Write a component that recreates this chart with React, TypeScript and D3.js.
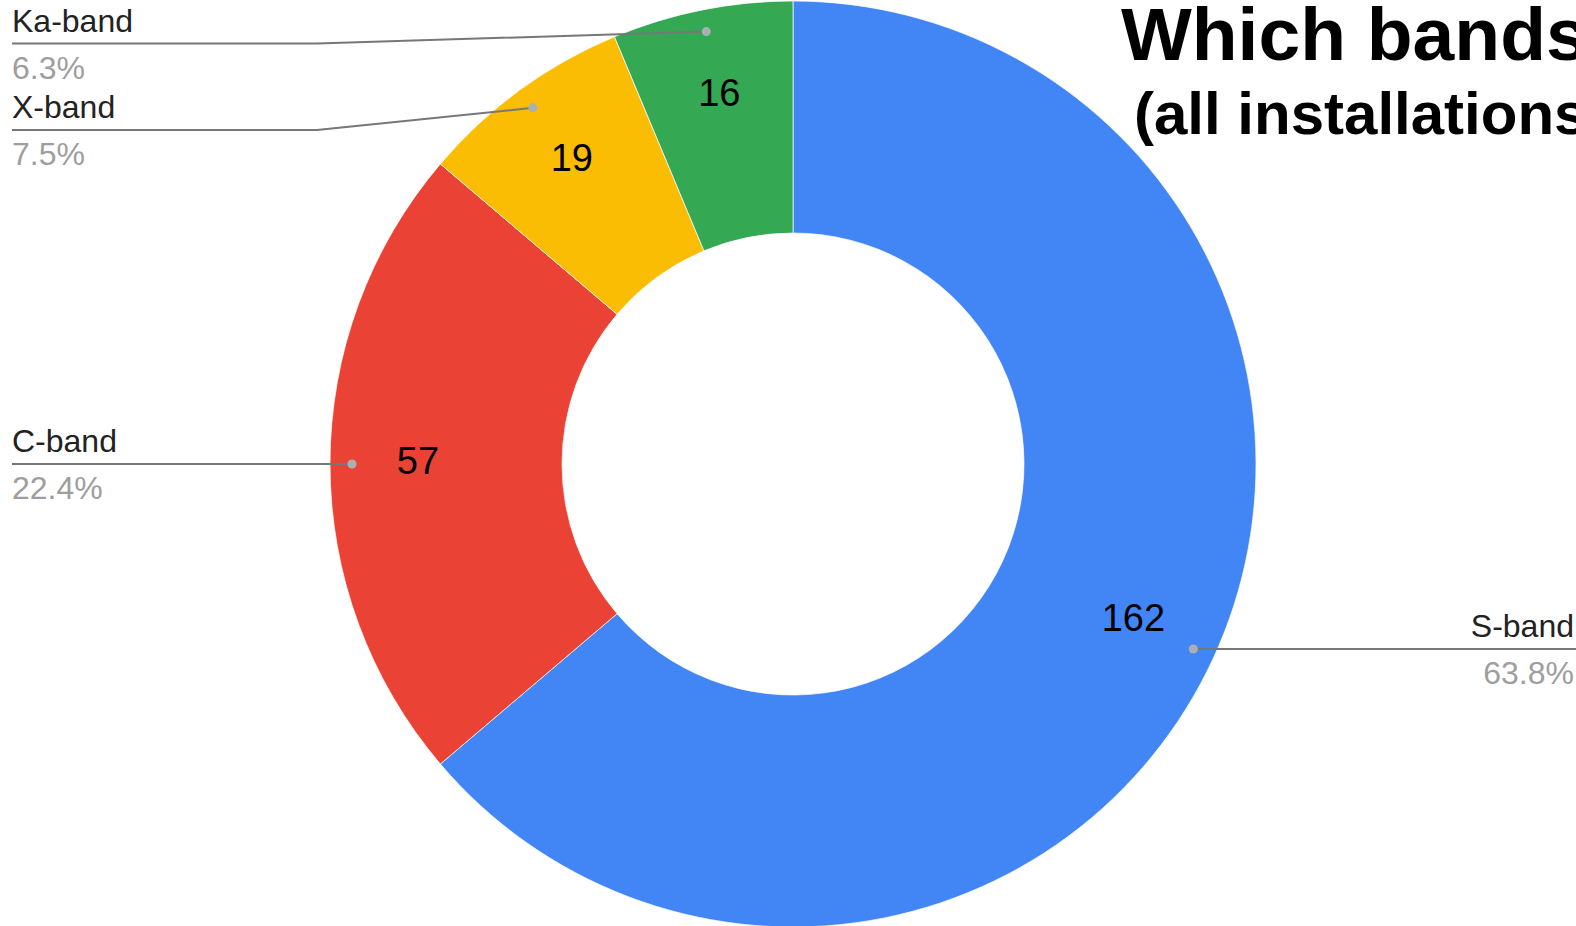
import React from "react";
import * as d3 from "d3";

const categories = ["S-band", "C-band", "X-band", "Ka-band"];
const values = [162, 57, 19, 16];
const colors = ["#4285F4", "#EA4335", "#FBBC04", "#34A853"];
const titleLines = ["Which bands", "(all installations)"];

const W = 1576;
const H = 926;

export default function App() {
  const cx = 793;
  const cy = 464;
  const R = 463;
  const r0 = 231;
  const total = d3.sum(values);
  const pie = d3.pie<number>().sort(null).value((d) => d);
  const arcs = pie(values);
  const arc = d3.arc<d3.PieArcDatum<number>>().innerRadius(r0).outerRadius(R);
  const labelArc = d3.arc<d3.PieArcDatum<number>>().innerRadius(375).outerRadius(375);
  const dotArc = d3.arc<d3.PieArcDatum<number>>().innerRadius(441).outerRadius(441);
  const pct = d3.format(".1%");

  // leader label layout
  const items = arcs.map((a, i) => {
    const mid = (a.startAngle + a.endAngle) / 2;
    const [dx, dy] = dotArc.centroid(a);
    return { i, mid, dotX: cx + dx, dotY: cy + dy, left: mid > Math.PI, lineY: 0 };
  });
  const gap = 86.5;
  const minY = 43.5;
  const leftItems = items.filter((d) => d.left).sort((a, b) => a.dotY - b.dotY);
  let prev = minY - gap;
  leftItems.forEach((d) => {
    d.lineY = Math.max(d.dotY, prev + gap);
    prev = d.lineY;
  });
  const rightItems = items.filter((d) => !d.left).sort((a, b) => a.dotY - b.dotY);
  prev = minY - gap;
  rightItems.forEach((d) => {
    d.lineY = Math.max(d.dotY, prev + gap);
    prev = d.lineY;
  });

  const elbowOffset = 476;
  const font = "'Liberation Sans', Arial, sans-serif";

  return (
    <svg
      width={W}
      height={H}
      style={{ position: "absolute", left: 0, top: 0, background: "#fff" }}
      fontFamily={font}
    >
      <rect x={0} y={0} width={W} height={H} fill="#fff" />
      <g transform={`translate(${cx},${cy})`}>
        {arcs.map((a, i) => (
          <path key={i} d={arc(a) || ""} fill={colors[i]} stroke="#ffffff" strokeWidth={0.7} />
        ))}
        {arcs.map((a, i) => {
          const [x, y] = labelArc.centroid(a);
          return (
            <text
              key={i}
              x={x}
              y={y - 3}
              textAnchor="middle"
              dominantBaseline="central"
              fontSize={38}
              fill="#000"
            >
              {values[i]}
            </text>
          );
        })}
      </g>
      {items.map((d) => {
        const elbowX = d.left ? cx - elbowOffset : cx + elbowOffset;
        const endX = d.left ? 12 : W;
        const textX = d.left ? 12 : 1574;
        const anchor = d.left ? "start" : "end";
        return (
          <g key={d.i}>
            <polyline
              points={`${endX},${d.lineY} ${elbowX},${d.lineY} ${d.dotX},${d.dotY}`}
              fill="none"
              stroke="#777"
              strokeWidth={2}
            />
            <circle cx={d.dotX} cy={d.dotY} r={4.5} fill="#a9b0b4" />
            <text x={textX} y={d.lineY - 12} textAnchor={anchor} fontSize={32} fill="#222">
              {categories[d.i]}
            </text>
            <text x={textX} y={d.lineY + 35} textAnchor={anchor} fontSize={32} fill="#9e9e9e">
              {pct(values[d.i] / total)}
            </text>
          </g>
        );
      })}
      <text x={1121} y={60} fontSize={75} fontWeight="bold" fill="#000">
        {titleLines[0]}
      </text>
      <text x={1134} y={134} fontSize={60} fontWeight="bold" fill="#000">
        {titleLines[1]}
      </text>
    </svg>
  );
}
